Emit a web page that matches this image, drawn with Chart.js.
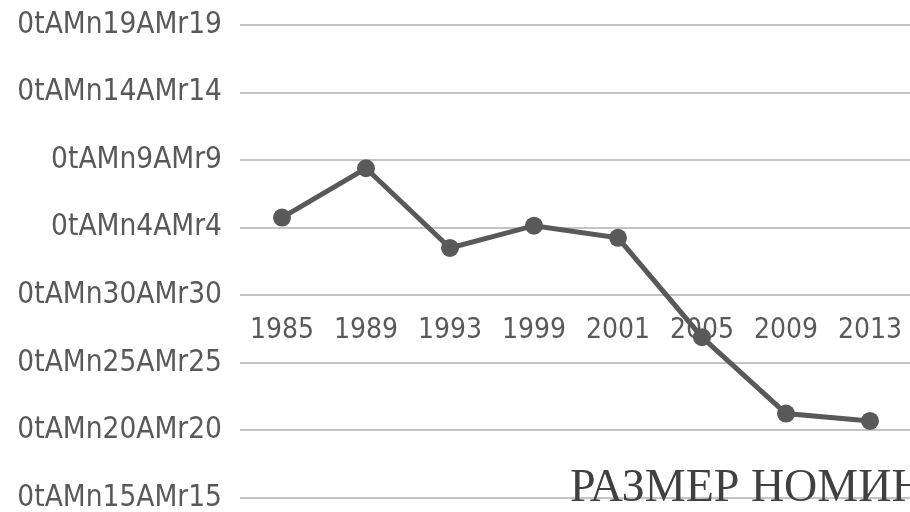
<!DOCTYPE html>
<html>
<head>
<meta charset="utf-8">
<script src="https://cdn.jsdelivr.net/npm/chart.js@4"></script>
<style>
  html, body { margin: 0; padding: 0; background: #fff; overflow: hidden; }
  #wrap { width: 912px; height: 512px; }
</style>
</head>
<body>
<div id="wrap"><canvas id="chart" width="912" height="512"></canvas></div>
<script>
// ========== DADOS ==========
const years = ['1985', '1989', '1993', '1999', '2001', '2005', '2009', '2013'];
const values = [1.15, 1.88, 0.70, 1.03, 0.85, -0.62, -1.75, -1.86];

// rótulos do eixo Y, de baixo (-3) para cima (4)
const yTickValues = [-3, -2, -1, 0, 1, 2, 3, 4];
const yTickLabels = [
  '0tAMn15AMr15', '0tAMn20AMr20', '0tAMn25AMr25', '0tAMn30AMr30',
  '0tAMn4AMr4', '0tAMn9AMr9', '0tAMn14AMr14', '0tAMn19AMr19'
];

const chartTitle = 'РАЗМЕР НОМИНАЛЬНОЙ ЗАРПЛАТЫ';

const textColor = '#595959';
const gridColor = '#c4c4c4';
const yFont = { family: "'DejaVu Sans Condensed', 'DejaVu Sans', sans-serif", size: 29.5, lineHeight: 1 };
const xFont = { family: "'DejaVu Sans Condensed', 'DejaVu Sans', sans-serif", size: 28, lineHeight: 1 };

// título desenhado por cima do gráfico, como no original
const titlePlugin = {
  id: 'overlayTitle',
  afterDraw(chart) {
    const ctx = chart.ctx;
    ctx.save();
    ctx.font = "46px 'Liberation Serif', 'DejaVu Serif', serif";
    ctx.fillStyle = '#404040';
    ctx.textAlign = 'left';
    ctx.textBaseline = 'alphabetic';
    ctx.fillText(chartTitle, 570, 501);
    ctx.restore();
  }
};

const ctx = document.getElementById('chart').getContext('2d');
new Chart(ctx, {
  type: 'line',
  data: {
    labels: years,
    datasets: [{
      data: values,
      borderColor: textColor,
      backgroundColor: textColor,
      borderWidth: 5,
      pointRadius: 9,
      pointBorderWidth: 0,
      pointBackgroundColor: textColor,
      tension: 0,
      clip: false
    }]
  },
  options: {
    responsive: false,
    animation: false,
    layout: { autoPadding: false, padding: { top: 25, bottom: 14, left: 0, right: 0 } },
    plugins: {
      legend: { display: false },
      tooltip: { enabled: false }
    },
    scales: {
      x: {
        type: 'category',
        position: { y: 0 },
        offset: true,
        afterFit(scale) { scale.paddingLeft = 0; scale.paddingRight = 0; },
        grid: { display: false, drawTicks: false },
        border: { display: false },
        ticks: { color: textColor, font: xFont, padding: 21, maxRotation: 0, autoSkip: false }
      },
      y: {
        min: -3,
        max: 4,
        afterFit(scale) {
          scale.width = 240;
          scale.paddingTop = 0;
          scale.paddingBottom = 0;
        },
        afterBuildTicks(scale) { scale.ticks = yTickValues.map(v => ({ value: v })); },
        grid: { color: gridColor, lineWidth: 2, drawTicks: false },
        border: { display: false },
        ticks: {
          color: textColor,
          font: yFont,
          padding: 18,
          callback: function (value) {
            const i = yTickValues.indexOf(value);
            return i >= 0 ? yTickLabels[i] : '';
          }
        }
      }
    }
  },
  plugins: [titlePlugin]
});
</script>
</body>
</html>
